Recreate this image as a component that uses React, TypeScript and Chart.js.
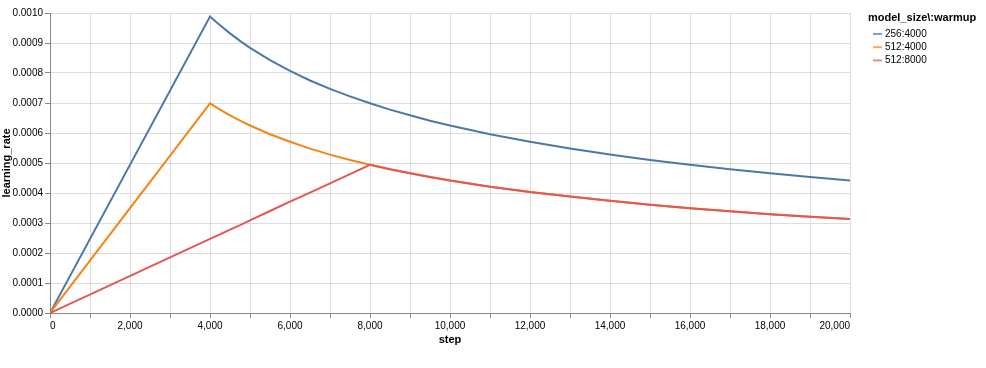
import React, { useEffect, useRef } from "react";
import { Chart, registerables } from "chart.js";

Chart.register(...registerables);

const steps = [0, 4000, 4250, 4500, 4750, 5000, 5500, 6000, 6500, 7000, 7500, 8000, 8500, 9000, 9500, 10000, 11000, 12000, 13000, 14000, 15000, 16000, 17000, 18000, 19000, 20000];

const lr256_4000 = [0, 0.000988, 0.000959, 0.000932, 0.000907, 0.000884, 0.000843, 0.000807, 0.000775, 0.000747, 0.000722, 0.000699, 0.000678, 0.000659, 0.000641, 0.000625, 0.000596, 0.000571, 0.000548, 0.000528, 0.00051, 0.000494, 0.000479, 0.000466, 0.000453, 0.000442];

const lr512_4000 = [0, 0.000699, 0.000678, 0.000659, 0.000641, 0.000625, 0.000596, 0.000571, 0.000548, 0.000528, 0.00051, 0.000494, 0.000479, 0.000466, 0.000453, 0.000442, 0.000421, 0.000403, 0.000388, 0.000374, 0.000361, 0.000349, 0.000339, 0.000329, 0.000321, 0.000313];

const lr512_8000 = [0, 0.000247, 0.000262, 0.000278, 0.000293, 0.000309, 0.00034, 0.000371, 0.000401, 0.000432, 0.000463, 0.000494, 0.000479, 0.000466, 0.000453, 0.000442, 0.000421, 0.000403, 0.000388, 0.000374, 0.000361, 0.000349, 0.000339, 0.000329, 0.000321, 0.000313];

const seriesNames = ["256:4000", "512:4000", "512:8000"];
const seriesColors = ["#4c78a8", "#f58518", "#e45756"];
const legendTitle = "model_size\\:warmup";
const xTitle = "step";
const yTitle = "learning_rate";

const FONT = "'Liberation Sans', Arial, sans-serif";

const legendPlugin = {
  id: "customLegend",
  afterDraw(chart: any) {
    const ctx = chart.ctx;
    ctx.save();
    ctx.fillStyle = "#000";
    ctx.textBaseline = "middle";
    ctx.textAlign = "left";
    ctx.font = `bold 11px ${FONT}`;
    ctx.fillText(legendTitle, 868, 18);
    ctx.font = `10px ${FONT}`;
    seriesNames.forEach((name, i) => {
      const y = 34 + i * 13.2;
      ctx.globalAlpha = 0.7;
      ctx.strokeStyle = seriesColors[i];
      ctx.lineWidth = 2;
      ctx.beginPath();
      ctx.moveTo(873, y);
      ctx.lineTo(882, y);
      ctx.stroke();
      ctx.globalAlpha = 1;
      ctx.fillStyle = "#000";
      ctx.fillText(name, 885, y);
    });
    ctx.restore();
  },
};

export default function App() {
  const ref = useRef<HTMLCanvasElement | null>(null);
  useEffect(() => {
    if (!ref.current) return;
    const data = [lr256_4000, lr512_4000, lr512_8000];
    const chart = new Chart(ref.current, {
      type: "line",
      data: {
        datasets: seriesNames.map((name, i) => ({
          label: name,
          data: steps.map((s, j) => ({ x: s, y: data[i][j] })),
          borderColor: seriesColors[i],
          backgroundColor: seriesColors[i],
          borderWidth: 2,
          pointRadius: 0,
          tension: 0,
          fill: false,
          order: seriesNames.length - 1 - i,
        })),
      },
      options: {
        animation: false,
        responsive: false,
        maintainAspectRatio: false,
        layout: { padding: { top: 13, right: 136, left: 0, bottom: 0 } },
        plugins: { legend: { display: false }, tooltip: { enabled: false } },
        scales: {
          x: {
            type: "linear",
            min: 0,
            max: 20000,
            afterFit(scale: any) {
              scale.height = 55;
            },
            border: { color: "#888", width: 1 },
            grid: { color: "#ddd", tickColor: "#888", tickLength: 5, lineWidth: 1 },
            ticks: {
              stepSize: 1000,
              autoSkip: false,
              maxRotation: 0,
              align: "inner",
              padding: 2,
              color: "#000",
              font: { family: FONT, size: 10 },
              callback: (v: any) => (Number(v) % 2000 === 0 ? Number(v).toLocaleString("en-US") : ""),
            },
            title: {
              display: true,
              text: xTitle,
              color: "#000",
              font: { family: FONT, size: 11, weight: "bold" },
              padding: { top: 21, bottom: 21 },
            },
          },
          y: {
            type: "linear",
            min: 0,
            max: 0.001,
            afterFit(scale: any) {
              scale.width = 50;
            },
            border: { color: "#888", width: 1 },
            grid: { color: "#ddd", tickColor: "#888", tickLength: 5, lineWidth: 1 },
            ticks: {
              stepSize: 0.0001,
              autoSkip: false,
              padding: 2,
              color: "#000",
              font: { family: FONT, size: 10 },
              callback: (v: any) => Number(v).toFixed(4),
            },
            title: {
              display: true,
              text: yTitle,
              color: "#000",
              font: { family: FONT, size: 11, weight: "bold" },
              padding: { top: 0, bottom: 0 },
            },
          },
        },
      } as any,
      plugins: [legendPlugin],
    });
    return () => chart.destroy();
  }, []);
  return (
    <div style={{ position: "absolute", left: 0, top: 0, width: 986, height: 368, background: "#fff" }}>
      <canvas ref={ref} width={986} height={368} style={{ width: 986, height: 368, display: "block" }} />
    </div>
  );
}
